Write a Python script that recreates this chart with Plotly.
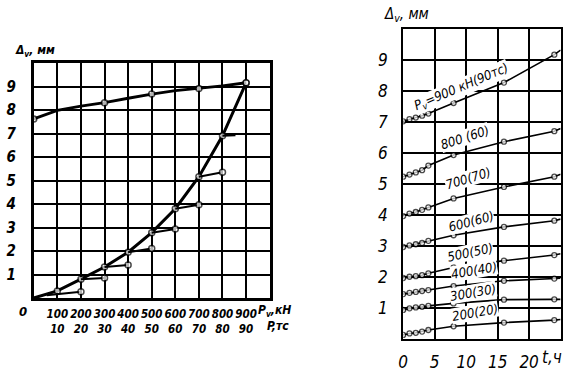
import plotly.graph_objects as go

# ---------------- Left panel data ----------------
load_P = [0, 100, 200, 300, 400, 500, 600, 700, 800, 900]
load_D = [0, 0.3, 0.8, 1.32, 1.95, 2.78, 3.8, 5.16, 6.9, 9.15]
unload_P = [0, 100, 200, 300, 400, 500, 600, 700, 800, 900]
unload_D = [7.62, 7.98, 8.16, 8.31, 8.5, 8.68, 8.82, 8.92, 9.03, 9.16]
unload_marked = [True, False, False, True, False, True, False, True, False, True]
# creep branches (start on load curve -> end after holding)
branch_P0 = [55, 200, 300, 400, 500, 600, 700, 800]
branch_D0 = [0.12, 0.8, 1.32, 1.95, 2.78, 3.8, 5.16, 6.9]
branch_P1 = [200, 300, 400, 500, 600, 700, 800, 855]
branch_D1 = [0.27, 0.85, 1.4, 2.11, 2.94, 3.97, 5.35, 6.93]
branch_end_marked = [True, True, True, True, True, True, True, False]
left_xticks = [100, 200, 300, 400, 500, 600, 700, 800, 900]
left_xtext_kn = ["100", "200", "300", "400", "500", "600", "700", "800", "900"]
left_xtext_tc = ["10", "20", "30", "40", "50", "60", "70", "80", "90"]
y_ticks = [1, 2, 3, 4, 5, 6, 7, 8, 9]

# ---------------- Right panel data ----------------
t_hours = [0, 1, 2, 3, 4, 8, 16, 24]
t_end = 25
series_names = ["900", "800", "700", "600", "500", "400", "300", "200"]
series_vals = {
    "900": [7.03, 7.1, 7.15, 7.21, 7.28, 7.62, 8.28, 9.18],
    "800": [5.24, 5.31, 5.38, 5.45, 5.6, 5.94, 6.37, 6.71],
    "700": [3.97, 4.05, 4.1, 4.17, 4.25, 4.54, 4.91, 5.24],
    "600": [2.97, 3.02, 3.06, 3.1, 3.17, 3.35, 3.62, 3.82],
    "500": [1.97, 2.01, 2.03, 2.06, 2.12, 2.31, 2.53, 2.71],
    "400": [1.45, 1.49, 1.52, 1.55, 1.58, 1.71, 1.88, 1.95],
    "300": [0.94, 0.99, 1.02, 1.04, 1.07, 1.15, 1.27, 1.28],
    "200": [0.13, 0.18, 0.2, 0.24, 0.29, 0.41, 0.53, 0.61],
}
series_ext = {"900": 9.33, "800": 6.8, "700": 5.32, "600": 3.87,
              "500": 2.75, "400": 1.96, "300": 1.28, "200": 0.63}
series_labels = {
    "900": "P<sub>v</sub>=900 кН(90тс)", "800": "800 (60)", "700": "700(70)",
    "600": "600(60)", "500": "500(50)", "400": "400(40)", "300": "300(30)",
    "200": "200(20)",
}
label_pos = {  # (t, value, angle)
    "900": (9.2, 8.13, -23), "800": (9.8, 6.5, -18), "700": (10.3, 5.19, -17),
    "600": (10.8, 3.8, -15), "500": (10.6, 2.8, -12), "400": (11.2, 2.2, -10),
    "300": (11.1, 1.5, -10), "200": (11.4, 0.85, -10),
}
right_xticks = [0, 5, 10, 15, 20]

FONT = "DejaVu Sans Condensed, Liberation Sans Narrow, sans-serif"

fig = go.Figure()

# left: load curve
fig.add_trace(go.Scatter(
    x=load_P, y=load_D, mode="lines+markers", xaxis="x", yaxis="y",
    line=dict(color="black", width=3),
    marker=dict(size=[0] + [6] * (len(load_P) - 1), color="white",
                line=dict(color="black", width=1.5)),
    showlegend=False))
# left: unload curve
fig.add_trace(go.Scatter(
    x=unload_P, y=unload_D, mode="lines+markers", xaxis="x", yaxis="y",
    line=dict(color="black", width=2.8),
    marker=dict(size=[6 if m else 0 for m in unload_marked], color="white",
                line=dict(color="black", width=1.5)),
    showlegend=False))
# left: branches
for p0, d0, p1, d1, m in zip(branch_P0, branch_D0, branch_P1, branch_D1, branch_end_marked):
    fig.add_trace(go.Scatter(
        x=[p0, p1], y=[d0, d1], mode="lines+markers", xaxis="x", yaxis="y",
        line=dict(color="black", width=2),
        marker=dict(size=[0, 6 if m else 0], color="white",
                    line=dict(color="black", width=1.5)),
        showlegend=False))

# right: creep series
for name in series_names:
    fig.add_trace(go.Scatter(
        x=t_hours + [t_end], y=series_vals[name] + [series_ext[name]],
        mode="lines+markers", xaxis="x2", yaxis="y2",
        line=dict(color="black", width=1.6),
        marker=dict(size=[5] * len(t_hours) + [0], color="white",
                    line=dict(color="black", width=1.3)),
        showlegend=False))

tickfont = dict(family=FONT, size=15, color="black", style="italic", weight="bold")

fig.update_layout(
    width=573, height=373, margin=dict(l=0, r=0, t=0, b=0),
    paper_bgcolor="white", plot_bgcolor="white",
    xaxis=dict(domain=[29 / 573, 267 / 573], range=[0, 1000],
               tickmode="array", tickvals=left_xticks, tickangle=0,
               ticktext=[a + "<br>" + b for a, b in zip(left_xtext_kn, left_xtext_tc)],
               showgrid=True, gridcolor="black", gridwidth=2,
               showline=True, mirror=True, linecolor="black", linewidth=2.5,
               zeroline=False, ticks="", ticklabelstandoff=3,
               tickfont=dict(family=FONT, size=11.5, color="black", style="italic", weight="bold")),
    yaxis=dict(domain=[1 - 298 / 373, 1 - 63 / 373], range=[0, 10],
               tickmode="array", tickvals=y_ticks, ticktext=[str(v) for v in y_ticks],
               showgrid=True, gridcolor="black", gridwidth=2,
               showline=True, mirror=True, linecolor="black", linewidth=2.5,
               zeroline=False, ticks="", ticklabelstandoff=12, tickfont=tickfont),
    xaxis2=dict(domain=[401.7 / 573, 560.5 / 573], range=[0, 25], anchor="y2",
                tickmode="array", tickvals=right_xticks, tickangle=0,
                ticktext=[str(v) for v in right_xticks],
                showgrid=True, gridcolor="black", gridwidth=1.8,
                showline=True, mirror=True, linecolor="black", linewidth=2.2,
                zeroline=False, ticks="", ticklabelstandoff=6,
                tickfont=dict(family=FONT, size=17, color="black", style="italic")),
    yaxis2=dict(domain=[1 - 339 / 373, 1 - 29.3 / 373], range=[0, 10], anchor="x2",
                tickmode="array", tickvals=y_ticks, ticktext=[str(v) for v in y_ticks],
                showgrid=True, gridcolor="black", gridwidth=1.8,
                showline=True, mirror=True, linecolor="black", linewidth=2.2,
                zeroline=False, ticks="", ticklabelstandoff=10,
                tickfont=dict(family=FONT, size=17, color="black", style="italic")),
)

ann = []
# left axis titles
ann.append(dict(text="Δ<sub>v</sub>, мм", x=8 / 573, y=1 - 51 / 373, xref="paper", yref="paper",
                xanchor="left", yanchor="middle", showarrow=False,
                font=dict(family=FONT, size=12, color="black", style="italic", weight="bold")))
ann.append(dict(text="0", x=0, y=0, xref="x", yref="y", xshift=-11, yshift=-13,
                showarrow=False, font=dict(family=FONT, size=13, color="black", style="italic", weight="bold")))
ann.append(dict(text="P<sub>v</sub>,кН", x=253 / 573, y=1 - 311 / 373, xref="paper", yref="paper",
                xanchor="left", yanchor="middle", showarrow=False,
                font=dict(family=FONT, size=12, color="black", style="italic", weight="bold")))
ann.append(dict(text="P,тс", x=262 / 573, y=1 - 326 / 373, xref="paper", yref="paper",
                xanchor="left", yanchor="middle", showarrow=False,
                font=dict(family=FONT, size=12, color="black", style="italic", weight="bold")))
# right axis titles
ann.append(dict(text="Δ<sub>v</sub>, мм", x=380 / 573, y=1 - 14 / 373, xref="paper", yref="paper",
                xanchor="left", yanchor="middle", showarrow=False,
                font=dict(family=FONT, size=15, color="black", style="italic")))
ann.append(dict(text="t,ч", x=23.7, y=0, xref="x2", yref="y2", yshift=-18,
                showarrow=False, font=dict(family=FONT, size=17, color="black", style="italic")))
# series labels
for name in series_names:
    t, v, a = label_pos[name]
    ann.append(dict(text=series_labels[name], x=t, y=v, xref="x2", yref="y2",
                    textangle=a, showarrow=False, bgcolor="white", borderpad=0,
                    font=dict(family=FONT, size=13, color="black", style="italic")))
fig.update_layout(annotations=ann)

fig.write_html("out.html")
